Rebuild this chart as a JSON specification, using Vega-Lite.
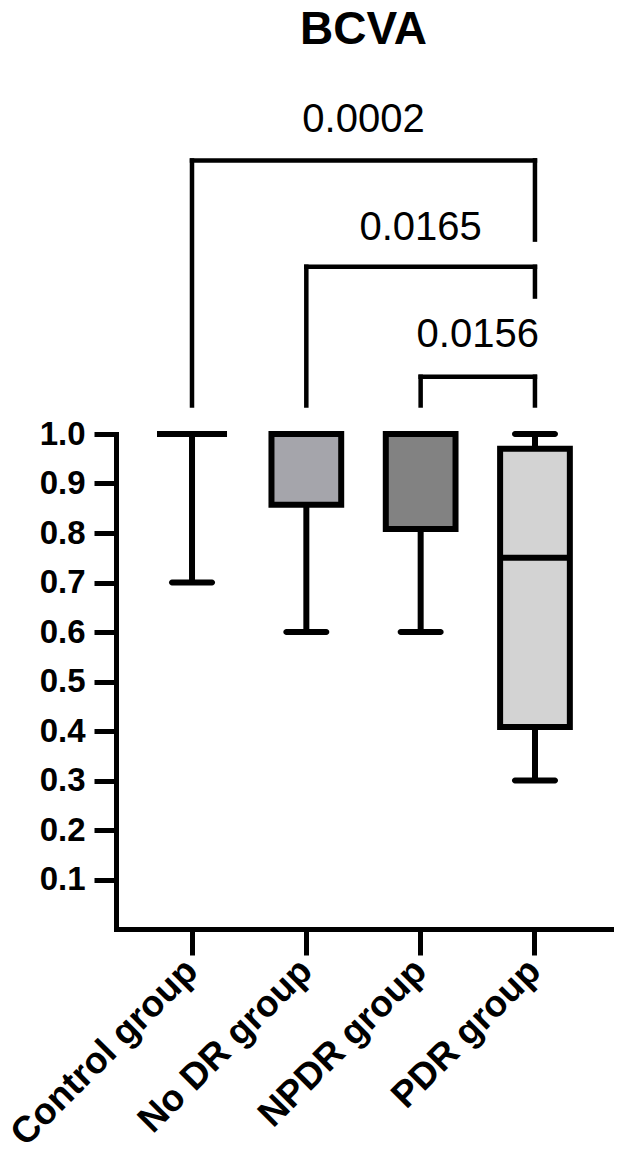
{
  "$schema": "https://vega.github.io/schema/vega-lite/v6.json",
  "background": "white",
  "padding": {"left": 3, "top": 7, "right": 5, "bottom": 5},
  "bounds": "flush",
  "spacing": 30,
  "config": {"font": "Liberation Sans", "view": {"stroke": null}},
  "datasets": {
    "boxes": [
      {"group": "Control group", "lo": 0.7, "q1": 1.0, "median": 1.0, "q3": 1.0, "hi": 1.0},
      {"group": "No DR group", "lo": 0.6, "q1": 0.857, "median": 1.0, "q3": 1.0, "hi": 1.0},
      {"group": "NPDR group", "lo": 0.6, "q1": 0.808, "median": 1.0, "q3": 1.0, "hi": 1.0},
      {"group": "PDR group", "lo": 0.3, "q1": 0.408, "median": 0.75, "q3": 0.97, "hi": 1.0}
    ],
    "brackets": [
      {"xa": 0, "xb": 3, "ya": 1.552, "yb": 1.552},
      {"xa": 0, "xb": 0, "ya": 1.552, "yb": 1.057},
      {"xa": 3, "xb": 3, "ya": 1.552, "yb": 1.392},
      {"xa": 1, "xb": 3, "ya": 1.337, "yb": 1.337},
      {"xa": 1, "xb": 1, "ya": 1.337, "yb": 1.057},
      {"xa": 3, "xb": 3, "ya": 1.337, "yb": 1.277},
      {"xa": 2, "xb": 3, "ya": 1.115, "yb": 1.115},
      {"xa": 2, "xb": 2, "ya": 1.115, "yb": 1.057},
      {"xa": 3, "xb": 3, "ya": 1.115, "yb": 1.057}
    ],
    "pvalues": [
      {"x": 1.5, "y": 1.634, "p": "0.0002"},
      {"x": 2.0, "y": 1.416, "p": "0.0165"},
      {"x": 2.5, "y": 1.199, "p": "0.0156"}
    ]
  },
  "title": {
    "text": "BCVA",
    "fontSize": 46,
    "fontWeight": "bold",
    "color": "black",
    "anchor": "middle",
    "frame": "group",
    "offset": 43
  },
  "vconcat": [
    {
      "width": 495,
      "height": 307,
      "layer": [
        {
          "data": {"name": "brackets"},
          "mark": {"type": "rule", "color": "black", "strokeWidth": 4.5, "strokeCap": "square"},
          "encoding": {
            "x": {"field": "xa", "type": "quantitative", "scale": {"domain": [-0.6648, 3.6652], "nice": false, "zero": false}, "axis": null},
            "x2": {"field": "xb"},
            "y": {"field": "ya", "type": "quantitative", "scale": {"domain": [1.06, 1.68], "nice": false, "zero": false}, "axis": null},
            "y2": {"field": "yb"}
          }
        },
        {
          "data": {"name": "pvalues"},
          "mark": {"type": "text", "fontSize": 40, "color": "black", "baseline": "middle", "align": "center"},
          "encoding": {
            "x": {"field": "x", "type": "quantitative"},
            "y": {"field": "y", "type": "quantitative"},
            "text": {"field": "p"}
          }
        }
      ]
    },
    {
      "width": 495,
      "height": 495,
      "data": {"name": "boxes"},
      "encoding": {
        "x": {"field": "group", "type": "nominal",
          "scale": {"type": "band", "domain": ["Control group", "No DR group", "NPDR group", "PDR group"], "paddingInner": 0.39, "paddingOuter": 0.36},
          "axis": {"title": null, "labelAngle": -45, "labelBaseline": "middle", "labelAlign": "right", "labelFontSize": 37, "labelFontWeight": "bold", "labelColor": "black", "labelLimit": 500,
            "tickSize": 26, "tickWidth": 5, "tickColor": "black", "domainWidth": 5, "domainColor": "black", "labelPadding": 10, "domainCap": "square"}}
      },
      "layer": [
        {
          "mark": {"type": "rule", "color": "black", "strokeWidth": 6},
          "encoding": {
            "y": {"field": "lo", "type": "quantitative",
              "scale": {"domain": [0, 1], "nice": false, "zero": true},
              "axis": {"title": null, "values": [0.1, 0.2, 0.3, 0.4, 0.5, 0.6, 0.7, 0.8, 0.9, 1.0], "format": ".1f",
                "labelFontSize": 33, "labelFontWeight": "bold", "labelColor": "black", "tickSize": 22, "tickWidth": 5, "tickColor": "black",
                "domainWidth": 5, "domainColor": "black", "labelPadding": 9, "grid": false, "domainCap": "square"}},
            "y2": {"field": "q1"}
          }
        },
        {
          "mark": {"type": "rule", "color": "black", "strokeWidth": 6},
          "encoding": {
            "y": {"field": "q3", "type": "quantitative"},
            "y2": {"field": "hi"}
          }
        },
        {
          "mark": {"type": "bar", "stroke": "black", "strokeWidth": 6},
          "encoding": {
            "y": {"field": "q1", "type": "quantitative"},
            "y2": {"field": "q3"},
            "fill": {"field": "group", "type": "nominal",
              "scale": {"domain": ["Control group", "No DR group", "NPDR group", "PDR group"], "range": ["#ffffff", "#a5a5ab", "#828282", "#d3d3d3"]},
              "legend": null}
          }
        },
        {
          "mark": {"type": "tick", "color": "black", "size": 70, "thickness": 6, "opacity": 1},
          "encoding": {"y": {"field": "median", "type": "quantitative"}}
        },
        {
          "mark": {"type": "tick", "color": "black", "size": 46, "thickness": 6, "cornerRadius": 3, "opacity": 1},
          "encoding": {"y": {"field": "lo", "type": "quantitative"}}
        },
        {
          "mark": {"type": "tick", "color": "black", "size": 46, "thickness": 6, "cornerRadius": 3, "opacity": 1},
          "encoding": {"y": {"field": "hi", "type": "quantitative"}}
        }
      ]
    }
  ]
}
